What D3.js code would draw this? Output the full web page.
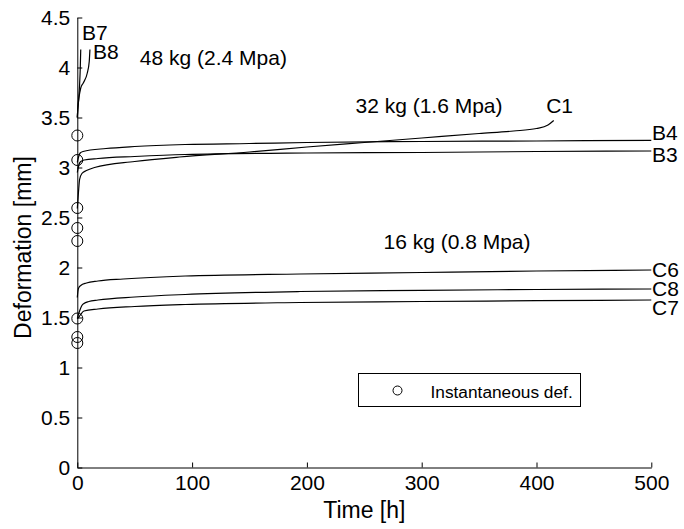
<!DOCTYPE html>
<html>
<head>
<meta charset="utf-8">
<script src="https://cdn.jsdelivr.net/npm/d3@7"></script>
<style>
  body { margin: 0; background: #fff; }
  text { font-family: "Liberation Sans", Arial, sans-serif; fill: #000; }
</style>
</head>
<body>
<script>

// global variables
var w = 684;

var h = 529;

var chartPad = {
  top: 17.5,
  bottom: 61.5,
  left: 77.3,
  right: 32.7
};

// tick values
var xTicks = [0, 100, 200, 300, 400, 500];

var yTicks = [0, 0.5, 1, 1.5, 2, 2.5, 3, 3.5, 4, 4.5];

// creep curves: time [h] and deformation [mm] per specimen
var b7Time = [0, 0.4, 1, 2, 2.6, 3];
var b7Def = [3.5, 3.58, 3.66, 3.83, 4.0, 4.18];

var b8Time = [0, 0.4, 1.5, 3, 5.2, 8.7, 10.4, 11];
var b8Def = [3.5, 3.58, 3.7, 3.795, 3.845, 3.945, 4.06, 4.18];

var b4Time = [0, 1.5, 2.5, 5, 25, 50, 94, 150, 200, 300, 400, 500];
var b4Def = [3.05, 3.12, 3.145, 3.16, 3.19, 3.21, 3.23, 3.24, 3.25, 3.26, 3.265, 3.272];

var b3Time = [0, 1.5, 3, 6, 18, 50, 94, 200, 300, 400, 500];
var b3Def = [2.95, 3.03, 3.06, 3.075, 3.09, 3.11, 3.13, 3.145, 3.15, 3.16, 3.165];

var c1Time = [0, 1, 2, 4, 8, 15, 50, 89, 150, 200, 250, 300, 350, 380, 400, 410, 415];
var c1Def = [2.59, 2.75, 2.88, 2.94, 2.97, 3.0, 3.06, 3.105, 3.155, 3.205, 3.25, 3.295, 3.34, 3.365, 3.39, 3.425, 3.47];

var c6Time = [0, 0.5, 1, 3, 8, 18, 40, 94, 194, 300, 400, 500];
var c6Def = [1.70, 1.76, 1.79, 1.82, 1.845, 1.865, 1.885, 1.915, 1.935, 1.95, 1.965, 1.975];

var c8Time = [0, 1, 2.3, 4, 5.8, 10, 18, 50, 94, 194, 300, 400, 500];
var c8Def = [1.49, 1.53, 1.575, 1.62, 1.64, 1.66, 1.675, 1.705, 1.73, 1.76, 1.772, 1.78, 1.785];

var c7Time = [0, 1, 2.3, 5.8, 18, 50, 94, 194, 300, 400, 500];
var c7Def = [1.49, 1.5, 1.52, 1.565, 1.585, 1.61, 1.63, 1.65, 1.66, 1.668, 1.675];

// instantaneous deformation (all at t = 0)
var instDef = [3.32, 3.075, 2.595, 2.395, 2.265, 1.49, 1.305, 1.245];

var curves = [
  [b7Time, b7Def], [b8Time, b8Def], [b4Time, b4Def], [b3Time, b3Def],
  [c1Time, c1Def], [c6Time, c6Def], [c8Time, c8Def], [c7Time, c7Def]
];

// labels placed in data coordinates (like matlab text())
var labelText = ["B7", "B8", "48 kg (2.4 Mpa)", "32 kg (1.6 Mpa)", "C1", "B4", "B3",
                 "16 kg (0.8 Mpa)", "C6", "C8", "C7"];
var labelTime = [4.1, 13.7, 54.5, 242.3, 408.4, 500.6, 500.6, 266.7, 500.6, 500.6, 500.6];
var labelDef = [4.275, 4.085, 4.025, 3.545, 3.545, 3.275, 3.055, 2.185, 1.905, 1.715, 1.525];


window.onload = function() {

  var xScale = d3.scaleLinear()
                 .domain([0, 500])
                 .range([chartPad.left, w - chartPad.right]);

  var yScale = d3.scaleLinear()
                 .domain([0, 4.5])
                 .range([h - chartPad.bottom, chartPad.top]);

  var svg = d3.select("body")
              .append("svg")
              .attr("width", w)
              .attr("height", h);

  svg.append("rect")
     .attr("width", w)
     .attr("height", h)
     .attr("fill", "#fff");

  // axes, ticks pointing inwards
  var xAxis = d3.axisBottom(xScale)
                .tickValues(xTicks)
                .tickSizeInner(-5)
                .tickSizeOuter(0)
                .tickPadding(8)
                .tickFormat(function(d) { return String(d); });

  var yAxis = d3.axisLeft(yScale)
                .tickValues(yTicks)
                .tickSizeInner(-5)
                .tickSizeOuter(0)
                .tickPadding(7)
                .tickFormat(function(d) { return String(d); });

  var gx = svg.append("g")
              .attr("transform", "translate(0," + (h - chartPad.bottom) + ")")
              .call(xAxis);

  var gy = svg.append("g")
              .attr("transform", "translate(" + chartPad.left + ",0)")
              .call(yAxis);

  [gx, gy].forEach(function(g) {
    g.attr("font-family", null).attr("font-size", null);
    g.selectAll("text").style("font-size", "21px");
    g.selectAll("line").attr("stroke", "#000");
    g.select(".domain").attr("stroke", "#000");
  });

  // creep curves
  var line = d3.line()
               .x(function(d) { return xScale(d[0]); })
               .y(function(d) { return yScale(d[1]); })
               .curve(d3.curveMonotoneX);

  svg.selectAll(".curve")
     .data(curves)
     .enter()
     .append("path")
     .attr("class", "curve")
     .attr("d", function(c) {
         return line(d3.zip(c[0], c[1]));
     })
     .attr("fill", "none")
     .attr("stroke", "#000")
     .attr("stroke-width", 1.2);

  // instantaneous deformation markers
  svg.selectAll(".inst")
     .data(instDef)
     .enter()
     .append("circle")
     .attr("class", "inst")
     .attr("cx", xScale(0))
     .attr("cy", function(d) { return yScale(d); })
     .attr("r", 5.5)
     .attr("fill", "none")
     .attr("stroke", "#000")
     .attr("stroke-width", 1);

  // text labels
  svg.selectAll(".lbl")
     .data(labelText)
     .enter()
     .append("text")
     .attr("class", "lbl")
     .attr("x", function(d, i) { return xScale(labelTime[i]); })
     .attr("y", function(d, i) { return yScale(labelDef[i]); })
     .style("font-size", "21px")
     .text(function(d) { return d; });

  // axis labels
  svg.append("text")
     .attr("x", xScale(250))
     .attr("y", 518)
     .attr("text-anchor", "middle")
     .style("font-size", "23px")
     .text("Time [h]");

  svg.append("text")
     .attr("transform", "translate(31," + yScale(2.2) + ") rotate(-90)")
     .attr("text-anchor", "middle")
     .style("font-size", "23px")
     .text("Deformation [mm]");

  // legend
  var legend = svg.append("g")
                  .attr("transform", "translate(358.5,373.5)");

  legend.append("rect")
        .attr("width", 222)
        .attr("height", 33)
        .attr("fill", "#fff")
        .attr("stroke", "#000")
        .attr("stroke-width", 1);

  legend.append("circle")
        .attr("cx", 39)
        .attr("cy", 17)
        .attr("r", 4.5)
        .attr("fill", "none")
        .attr("stroke", "#000");

  legend.append("text")
        .attr("x", 72)
        .attr("y", 24.5)
        .style("font-size", "17.3px")
        .text("Instantaneous def.");

};
</script>
</body>
</html>
